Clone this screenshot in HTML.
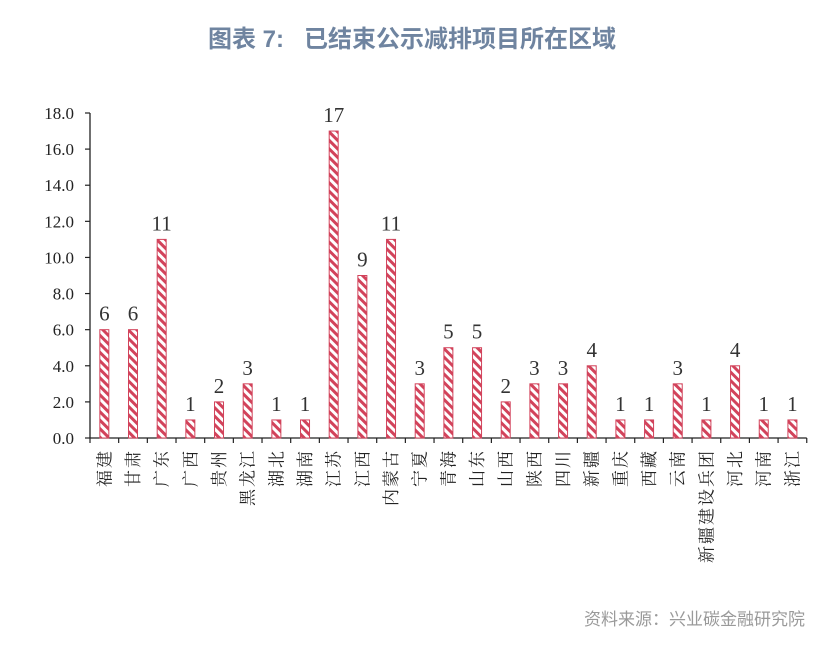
<!DOCTYPE html>
<html><head><meta charset="utf-8"><style>
html,body{margin:0;padding:0;background:#fff;width:832px;height:646px;overflow:hidden}
</style></head><body>
<svg width="832" height="646" xmlns="http://www.w3.org/2000/svg">
<defs>
<pattern id="p" patternUnits="userSpaceOnUse" width="6" height="6" patternTransform="rotate(-45)">
<rect width="6" height="6" fill="#fff"/><rect width="3" height="6" fill="#d2435b"/>
</pattern>
</defs>
<text x="412" y="47" text-anchor="middle" font-family="'Liberation Sans','Noto Sans CJK SC',sans-serif" font-size="24" font-weight="bold" fill="#6f84a0" xml:space="preserve">图表 7:   已结束公示减排项目所在区域</text>
<text x="805" y="625" text-anchor="end" font-family="'Liberation Sans','Noto Sans CJK SC',sans-serif" font-size="17" fill="#9a9a9a">资料来源：兴业碳金融研究院</text>
<g id="chart" font-family="'Liberation Serif','Noto Serif CJK SC',serif" fill="#222"></g>
</svg>
<script>
const vals=[6,6,11,1,2,3,1,1,17,9,11,3,5,5,2,3,3,4,1,1,3,1,4,1,1];
const labs=["福建","甘肃","广东","广西","贵州","黑龙江","湖北","湖南","江苏","江西","内蒙古","宁夏","青海","山东","山西","陕西","四川","新疆","重庆","西藏","云南","新疆建设兵团","河北","河南","浙江"];
const g=document.getElementById('chart');
const x0=90,y0=438,u=325/18,step=28.67;
let s='';
s+=`<line x1="${x0}" y1="113" x2="${x0}" y2="${y0}" stroke="#222" stroke-width="1.3"/>`;
s+=`<line x1="${x0}" y1="${y0}" x2="${x0+25*step}" y2="${y0}" stroke="#222" stroke-width="1.3"/>`;
for(let i=0;i<=9;i++){const y=y0-i*2*u;
s+=`<line x1="85" y1="${y}" x2="${x0}" y2="${y}" stroke="#222" stroke-width="1.2"/>`;
s+=`<text x="74" y="${y+6}" text-anchor="end" font-size="17">${(i*2).toFixed(1)}</text>`;}
for(let i=0;i<=25;i++){const x=x0+i*step;s+=`<line x1="${x}" y1="${y0}" x2="${x}" y2="${y0+5}" stroke="#222" stroke-width="1.2"/>`;}
vals.forEach((v,i)=>{const cx=x0+(i+0.5)*step,h=v*u;
s+=`<rect x="${cx-4.5}" y="${y0-h}" width="9" height="${h}" fill="url(#p)" stroke="#d2435b" stroke-width="1"/>`;
s+=`<text x="${cx}" y="${y0-h-9}" text-anchor="middle" font-size="21" fill="#333">${v}</text>`;
s+=`<text transform="translate(${cx+6},449) rotate(-90)" text-anchor="end" font-size="17" letter-spacing="2">${labs[i]}</text>`;
});
g.innerHTML=s;
</script>
</body></html>
